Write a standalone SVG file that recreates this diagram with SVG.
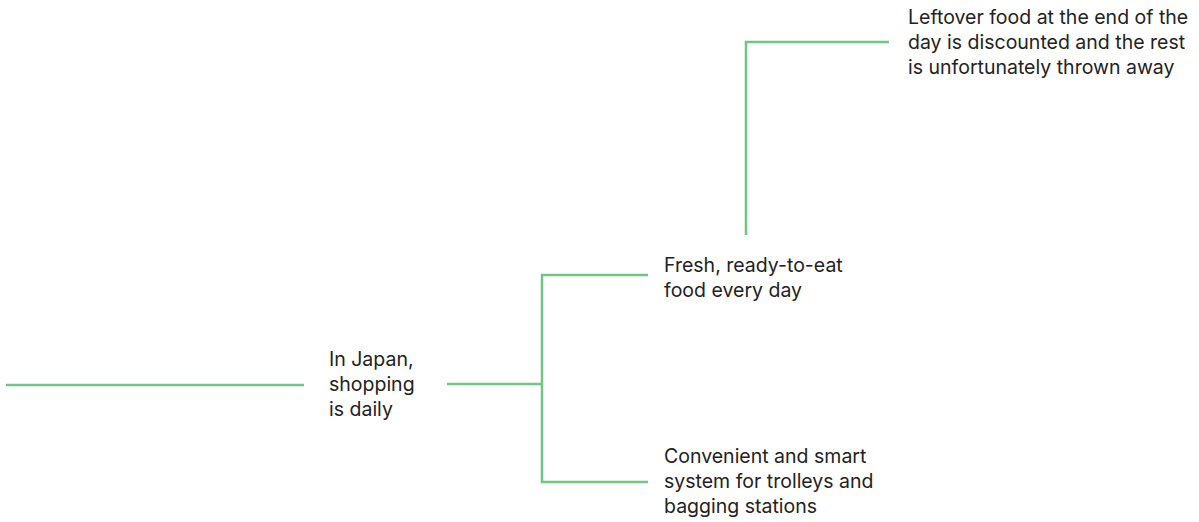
<svg xmlns="http://www.w3.org/2000/svg" width="1199" height="522" viewBox="0 0 1199 522">
  <style>
    .edge { fill: none; stroke: #72c584; stroke-width: 2.5; }
    .label { font-family: Inter, Roboto, "Liberation Sans", sans-serif; font-size: 19.5px; fill: #222222; }
  </style>
  <rect width="1199" height="522" fill="#ffffff"/>
  <g id="connectors">
    <path class="edge" d="M6 385 H304"/>
    <path class="edge" d="M447 384 H542"/>
    <path class="edge" d="M648 275 H542 V482 H648"/>
    <path class="edge" d="M746 235 V42 H889"/>
  </g>
  <g id="node-japan">
    <text class="label"><tspan x="329" y="366">In Japan,</tspan><tspan x="329" y="391">shopping</tspan><tspan x="329" y="416">is daily</tspan></text>
  </g>
  <g id="node-fresh">
    <text class="label"><tspan x="664" y="272">Fresh, ready-to-eat</tspan><tspan x="664" y="297">food every day</tspan></text>
  </g>
  <g id="node-convenient">
    <text class="label"><tspan x="664" y="463">Convenient and smart</tspan><tspan x="664" y="488">system for trolleys and</tspan><tspan x="664" y="513">bagging stations</tspan></text>
  </g>
  <g id="node-leftover">
    <text class="label"><tspan x="908" y="24">Leftover food at the end of the</tspan><tspan x="908" y="49">day is discounted and the rest</tspan><tspan x="908" y="74">is unfortunately thrown away</tspan></text>
  </g>
</svg>
